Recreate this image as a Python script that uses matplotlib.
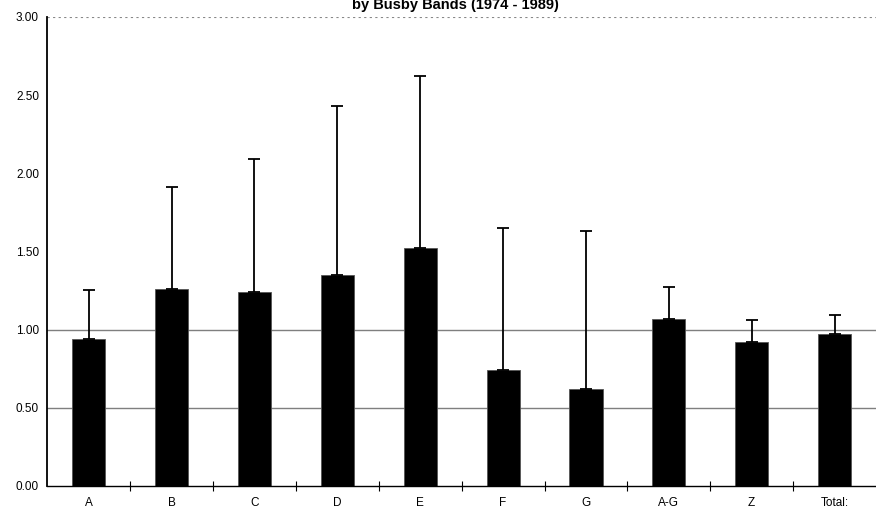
import matplotlib.pyplot as plt
import numpy as np

plt.rcParams['font.family'] = ['Liberation Sans', 'DejaVu Sans']

categories = ["A", "B", "C", "D", "E", "F", "G", "A-G", "Z", "Total:"]
means = [0.94, 1.26, 1.24, 1.35, 1.52, 0.74, 0.62, 1.07, 0.92, 0.97]
upper = [1.25, 1.91, 2.09, 2.43, 2.62, 1.65, 1.63, 1.27, 1.06, 1.09]
yticks = [0.0, 0.5, 1.0, 1.5, 2.0, 2.5, 3.0]

fig = plt.figure(figsize=(8.76, 5.12), dpi=100)
ax = fig.add_axes([0.054, 0.051, 0.946, 0.916])

x = np.arange(len(categories))
err = [u - m for u, m in zip(upper, means)]

# grid lines only at 0.5 and 1.0, dotted at the top
for yv in [0.5, 1.0]:
    ax.axhline(yv, color="#7f7f7f", lw=1.0, zorder=1)
ax.axhline(3.0, color="#888888", lw=0.8, ls=(0, (2, 3)), zorder=1)

ax.bar(x, means, width=0.4, color="black", edgecolor="#555555", lw=0.6, zorder=2)
ax.errorbar(x, means, yerr=[np.zeros(len(err)), err], fmt="none",
            ecolor="black", elinewidth=1.3, capsize=4, capthick=1.3, zorder=3)

ax.set_xlim(-0.5, len(categories) - 0.5)
ax.set_ylim(0, 3.0)
ax.set_yticks(yticks)
ax.set_yticklabels(["%.2f" % v for v in yticks], fontsize=8.5)
ax.tick_params(axis="y", length=0, pad=6)
ax.set_xticks(x)
ax.set_xticklabels(categories, fontsize=8.5)
ax.tick_params(axis="x", length=0, pad=8)
ax.set_xticks(np.arange(0.5, len(categories) - 0.5, 1), minor=True)
ax.tick_params(axis="x", which="minor", direction="inout", length=7, width=0.8)

for s in ["top", "right"]:
    ax.spines[s].set_visible(False)
ax.spines["left"].set_linewidth(1.3)
ax.spines["bottom"].set_linewidth(1.0)

fig.text(0.52, 1.003, "by Busby Bands (1974 - 1989)", ha="center", va="top",
         fontsize=10.5, fontweight="bold")

fig.savefig("out.png", dpi=100)
